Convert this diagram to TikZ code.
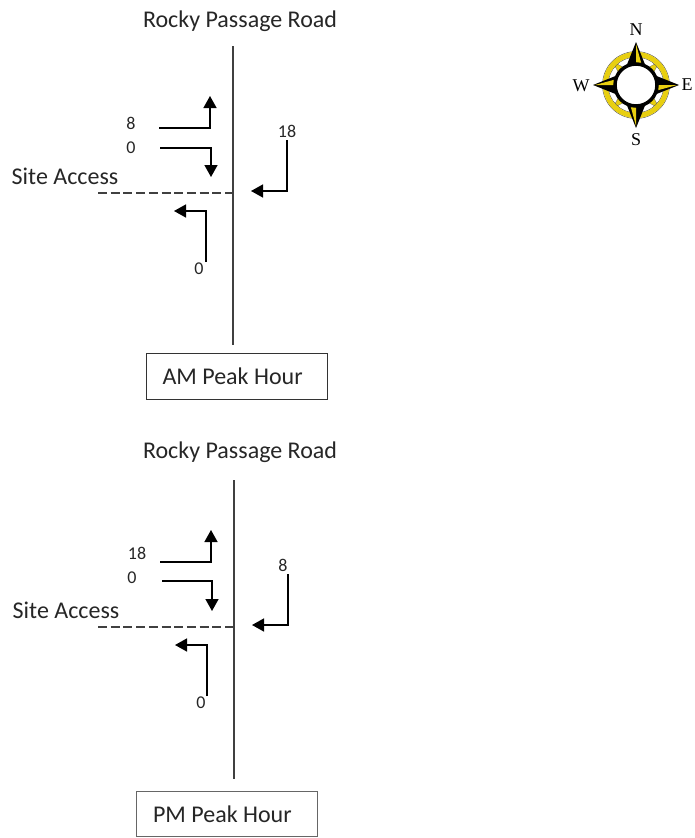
\documentclass[tikz,border=0pt]{standalone}
\usepackage{fontspec}
\setmainfont{Carlito}
\newfontfamily\serifcomp{Liberation Serif}
\definecolor{compy}{HTML}{E8CF10}
\usetikzlibrary{arrows.meta}
\tikzset{
 road/.style={draw=black!75,line width=1.2pt},
 sidest/.style={draw=black!75,line width=1.2pt,dash pattern=on 9pt off 3.7pt},
 move/.style={draw=black,line width=1.5pt,-{Triangle[width=13pt,length=12pt]}},
 lab/.style={font=\fontsize{24}{26}\selectfont,inner sep=0pt,text=black!85},
 num/.style={font=\fontsize{18}{20}\selectfont,inner sep=0pt,text=black!85},
 peak/.style={draw=black!80,line width=0.9pt,font=\fontsize{24}{26}\selectfont,text=black!85,minimum height=46pt,inner ysep=0pt,inner xsep=16.5pt,text width=148pt,align=flush left},
 cl/.style={font=\serifcomp\fontsize{18}{20}\selectfont,inner sep=0pt,text=black},
}
\begin{document}
\begin{tikzpicture}[x=1pt,y=-1pt]
\useasboundingbox (0,0) rectangle (694,838);
% AM
\node[lab] (t1) at (240,21) {Rocky Passage Road};
\coordinate (r1a) at (233,46); \coordinate (r1b) at (233,345);
\draw[road] (r1a) -- (r1b);
\coordinate (s1a) at (98,193); \coordinate (s1b) at (233,193);
\draw[sidest] (s1a) -- (s1b);
\node[lab] (sa1) at (65,176) {Site Access};
\node[num] (n1a) at (131,123) {8};
\node[num] (n1b) at (131,148) {0};
\node[num] (n1c) at (287,131) {18};
\node[num] (n1d) at (199,269) {0};
\coordinate (a1s) at (159,128); \coordinate (a1e) at (210,96);
\draw[move] (a1s) -| (a1e);
\coordinate (b1s) at (160,148); \coordinate (b1e) at (211,177);
\draw[move] (b1s) -| (b1e);
\coordinate (c1s) at (287,140); \coordinate (c1e) at (251,191);
\draw[move] (c1s) |- (c1e);
\coordinate (d1s) at (206,262); \coordinate (d1e) at (174,211);
\draw[move] (d1s) |- (d1e);
\node[peak] (p1) at (236.5,376.5) {AM Peak Hour};
% PM
\node[lab] (t2) at (240,452) {Rocky Passage Road};
\coordinate (r2a) at (234,480); \coordinate (r2b) at (234,779);
\draw[road] (r2a) -- (r2b);
\coordinate (s2a) at (98,627); \coordinate (s2b) at (234,627);
\draw[sidest] (s2a) -- (s2b);
\node[lab] (sa2) at (66,610) {Site Access};
\node[num] (n2a) at (137,553) {18};
\node[num] (n2b) at (132,578) {0};
\node[num] (n2c) at (283,565) {8};
\node[num] (n2d) at (201,703) {0};
\coordinate (a2s) at (160,562); \coordinate (a2e) at (211,530);
\draw[move] (a2s) -| (a2e);
\coordinate (b2s) at (162,581); \coordinate (b2e) at (212,611);
\draw[move] (b2s) -| (b2e);
\coordinate (c2s) at (288,574); \coordinate (c2e) at (252,625);
\draw[move] (c2s) |- (c2e);
\coordinate (d2s) at (207,696); \coordinate (d2e) at (175,645);
\draw[move] (d2s) |- (d2e);
\node[peak,draw=black!60,line width=1.3pt,minimum height=45pt] (p2) at (227,814) {PM Peak Hour};
% compass
\begin{scope}[shift={(636,85)}]
 \foreach \a in {45,135,225,315}{
  \begin{scope}[rotate=\a]
   \fill[compy,draw=black!60,line width=0.3pt] (20,-4) -- (33,0) -- (20,4) -- cycle;
  \end{scope}}
 \draw[black!70,line width=0.5pt] (0,0) circle (33.5);
 \draw[black!70,line width=0.5pt] (0,0) circle (28);
 \draw[compy,line width=5pt] (0,0) circle (30.7);
 \foreach \a in {0,90,180,270}{
  \begin{scope}[rotate=\a]
   \fill[black] (18,-10) -- (43,0) -- (18,10) -- cycle;
   \fill[compy] (19,0) -- (41,0) -- (19,6) -- cycle;
  \end{scope}}
 \draw[black,line width=3.5pt,fill=white] (0,0) circle (21);
\end{scope}
\node[cl] (cn) at (636,30) {N};
\node[cl] (cs) at (636,140) {S};
\node[cl] (cw) at (581,86) {W};
\node[cl] (ce) at (687,85) {E};
\end{tikzpicture}
\end{document}
